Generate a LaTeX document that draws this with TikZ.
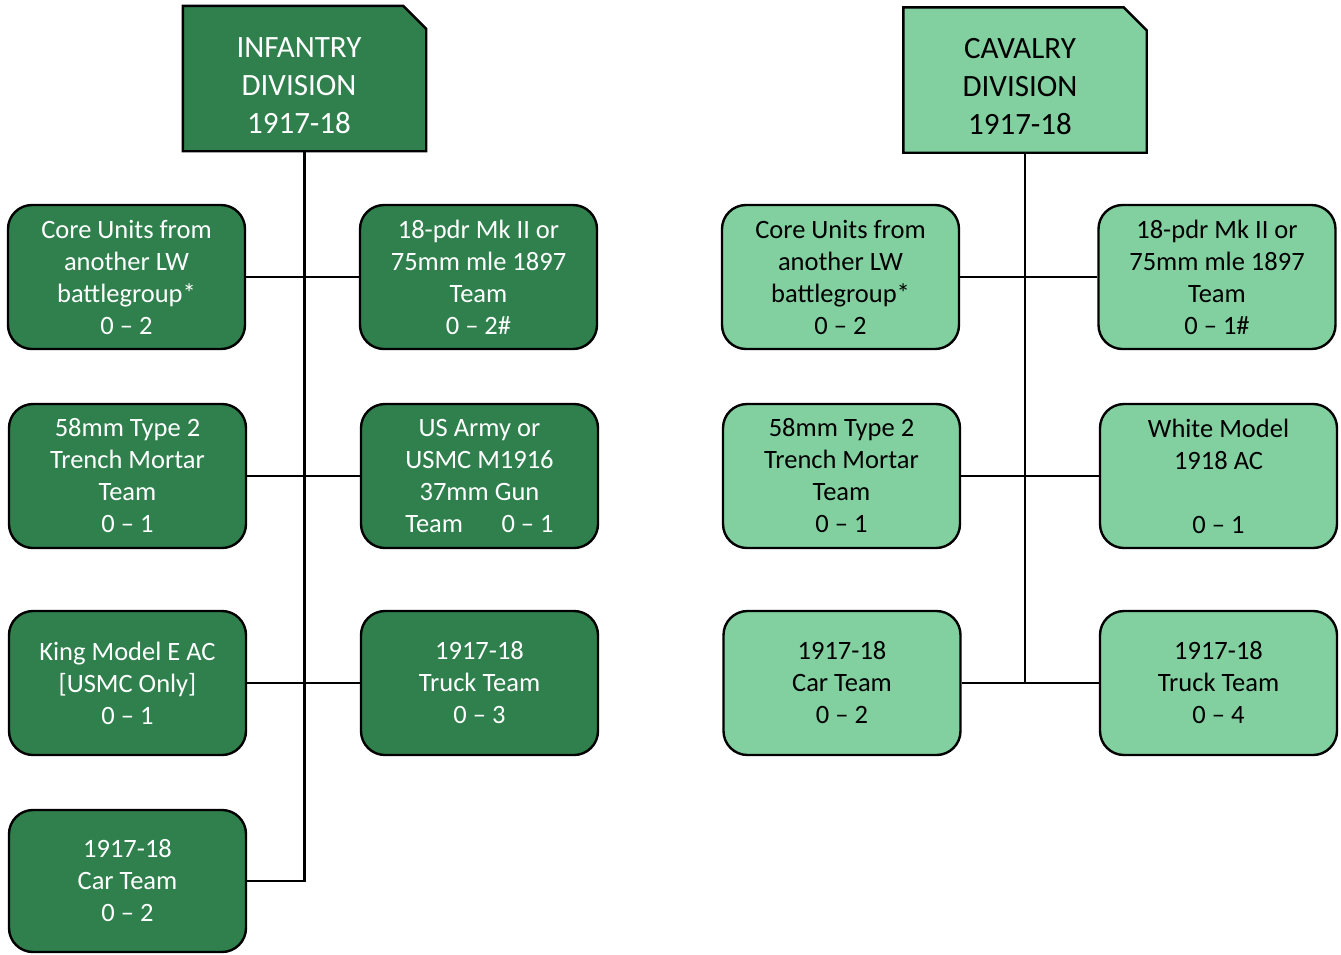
\documentclass[tikz,border=0pt]{standalone}
\usepackage{fontspec}
\setmainfont{Carlito}
\definecolor{infg}{RGB}{47,128,77}
\definecolor{cavg}{RGB}{130,208,160}
\tikzset{
  unit/.style={draw=black, line width=2.4pt, rounded corners=24pt, minimum width=237pt, minimum height=144pt, inner sep=0pt, align=center, font=\fontsize{26.5}{32}\selectfont},
  inf/.style={unit, fill=infg, text=white},
  cav/.style={unit, fill=cavg, text=black},
  headbox/.style={draw=none, minimum width=243pt, minimum height=145pt, inner sep=0pt},
  headline/.style={draw=black, line width=2.4pt, line join=miter},
  headtext/.style={align=center, inner sep=0pt, font=\fontsize{31}{38}\selectfont},
  link/.style={draw=black, line width=2.2pt}
}
\begin{document}
\begin{tikzpicture}[x=1pt,y=-1pt]
\useasboundingbox (0,0) rectangle (1341,954);
% Infantry
\node[headbox] (ihb) at (304.5,78.5) {};
\draw[headline, fill=infg] (ihb.south west) -- (ihb.north west) -- ([xshift=-23pt]ihb.north east) -- ([yshift=-23pt]ihb.north east) -- (ihb.south east) -- cycle;
\node[headtext, text=white] (ih) at (299,86) {INFANTRY\\DIVISION\\1917-18};
\node[inf] (il1) at (126.5,277) {Core Units from\\another LW\\battlegroup*\\0 -- 2};
\node[inf] (ir1) at (478.5,277) {18-pdr Mk II or\\75mm mle 1897\\Team\\0 -- 2\#};
\node[inf] (il2) at (127.5,476) {58mm Type 2\\Trench Mortar\\Team\\0 -- 1};
\node[inf] (ir2) at (479.5,476) {US Army or\\USMC M1916\\37mm Gun\\Team\quad\ \ 0 -- 1};
\node[inf] (il3) at (127.5,683) {King Model E AC\\{[USMC Only]}\\0 -- 1};
\node[inf] (ir3) at (479.5,683) {1917-18\\Truck Team\\0 -- 3};
\node[inf, minimum height=142pt] (il4) at (127.5,881) {1917-18\\Car Team\\0 -- 2};
\draw[link] (ihb.south) |- (il4.east);
\draw[link] (il1.east) -- (ir1.west);
\draw[link] (il2.east) -- (ir2.west);
\draw[link] (il3.east) -- (ir3.west);
% Cavalry
\node[headbox] (chb) at (1025,80) {};
\draw[headline, fill=cavg] (chb.south west) -- (chb.north west) -- ([xshift=-23pt]chb.north east) -- ([yshift=-23pt]chb.north east) -- (chb.south east) -- cycle;
\node[headtext, text=black] (ch) at (1020,87) {CAVALRY\\DIVISION\\1917-18};
\node[cav] (cl1) at (840.5,277) {Core Units from\\another LW\\battlegroup*\\0 -- 2};
\node[cav] (cr1) at (1217,277) {18-pdr Mk II or\\75mm mle 1897\\Team\\0 -- 1\#};
\node[cav] (cl2) at (841.5,476) {58mm Type 2\\Trench Mortar\\Team\\0 -- 1};
\node[cav] (cr2) at (1218.5,476) {White Model\\1918 AC\\\strut\\0 -- 1};
\node[cav] (cl3) at (842,683) {1917-18\\Car Team\\0 -- 2};
\node[cav] (cr3) at (1218.5,683) {1917-18\\Truck Team\\0 -- 4};
\coordinate (cend) at (1025,683);
\draw[link] (chb.south) -- (cend);
\draw[link] (cl1.east) -- (cr1.west);
\draw[link] (cl2.east) -- (cr2.west);
\draw[link] (cl3.east) -- (cr3.west);
\end{tikzpicture}
\end{document}
